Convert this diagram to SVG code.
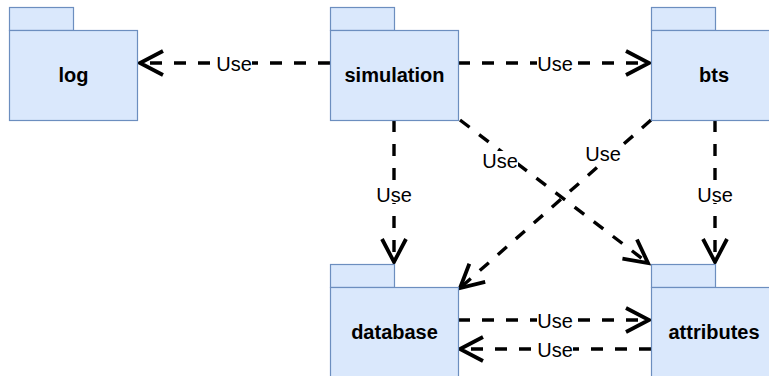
<svg xmlns="http://www.w3.org/2000/svg" width="769" height="376" viewBox="0 0 769 376">
<style>
.box{fill:#dae8fc;stroke:#6c8ebf;stroke-width:1.2}
.name{font-family:"Liberation Sans",Arial,sans-serif;font-weight:bold;font-size:20px;fill:#000;text-anchor:middle}
.edge{fill:none;stroke:#000;stroke-width:3.4;stroke-dasharray:12 12;marker-end:url(#open)}
.lbg{fill:#fff}
.lbl{font-family:"Liberation Sans",Arial,sans-serif;font-size:20px;fill:#000;text-anchor:middle;dominant-baseline:central}
</style>
<defs>
<marker id="open" markerUnits="userSpaceOnUse" markerWidth="34" markerHeight="34" viewBox="0 0 34 34" refX="28" refY="17" orient="auto">
<path d="M5,5 L28,17 L5,29" fill="none" stroke="#000" stroke-width="3.8" stroke-dasharray="none" stroke-linejoin="miter"/>
</marker>
</defs>
<rect width="769" height="376" fill="#fff"/>
<g id="connectors">
<path class="edge" d="M330,63 L140,63"/>
<path class="edge" d="M458,63 L649,63"/>
<path class="edge" d="M394,120 L394,262"/>
<path class="edge" d="M460,120 L648,263"/>
<path class="edge" d="M651,120 L460,288"/>
<path class="edge" d="M715,120 L715,262"/>
<path class="edge" d="M458,320 L649,320"/>
<path class="edge" d="M651,349 L460,349"/>
<rect class="lbg" x="216" y="54" width="36" height="18"/><text class="lbl" x="234" y="64">Use</text>
<rect class="lbg" x="537" y="54" width="36" height="18"/><text class="lbl" x="555" y="64">Use</text>
<rect class="lbg" x="376" y="185" width="36" height="18"/><text class="lbl" x="394" y="195">Use</text>
<rect class="lbg" x="697" y="185" width="36" height="18"/><text class="lbl" x="715" y="195">Use</text>
<rect class="lbg" x="482" y="151" width="36" height="18"/><text class="lbl" x="500" y="161">Use</text>
<rect class="lbg" x="585" y="144" width="36" height="18"/><text class="lbl" x="603" y="154">Use</text>
<rect class="lbg" x="537" y="311" width="36" height="18"/><text class="lbl" x="555" y="321">Use</text>
<rect class="lbg" x="537" y="340" width="36" height="18"/><text class="lbl" x="555" y="350">Use</text>
</g>
<g id="log">
<rect class="box" x="9.5" y="7.5" width="64" height="23"/>
<rect class="box" x="9.5" y="30.5" width="128" height="90"/>
<text class="name" x="73.5" y="82">log</text>
</g>
<g id="simulation">
<rect class="box" x="330.5" y="7.5" width="64" height="23"/>
<rect class="box" x="330.5" y="30.5" width="128" height="90"/>
<text class="name" x="394.5" y="82">simulation</text>
</g>
<g id="bts">
<rect class="box" x="651.5" y="7.5" width="64" height="23"/>
<rect class="box" x="651.5" y="30.5" width="128" height="90"/>
<text class="name" x="714" y="82">bts</text>
</g>
<g id="database">
<rect class="box" x="330.5" y="264.5" width="64" height="23"/>
<rect class="box" x="330.5" y="287.5" width="128" height="90"/>
<text class="name" x="394.5" y="339">database</text>
</g>
<g id="attributes">
<rect class="box" x="651.5" y="264.5" width="64" height="23"/>
<rect class="box" x="651.5" y="287.5" width="128" height="90"/>
<text class="name" x="714" y="339">attributes</text>
</g>
</svg>
